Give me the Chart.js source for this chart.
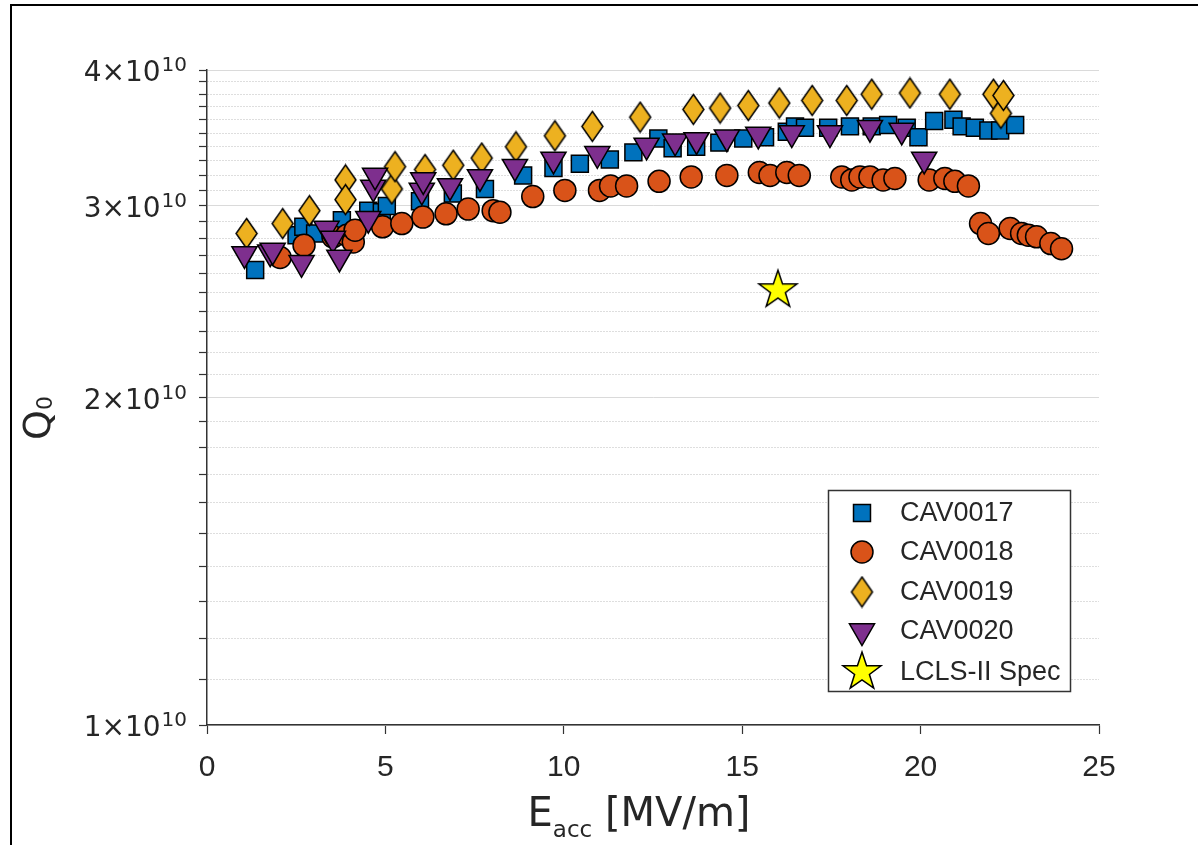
<!DOCTYPE html>
<html>
<head>
<meta charset="utf-8">
<script src="https://cdn.jsdelivr.net/npm/chart.js@4.4.1/dist/chart.umd.min.js"></script>
<style>
  html, body { margin: 0; padding: 0; background: #fff; }
  #wrap { position: relative; width: 1198px; height: 845px; overflow: hidden; }
  #moldura { position: absolute; left: 10px; top: 4px; right: -10px; bottom: -10px;
    border-left: 2px solid #000; border-top: 2px solid #000; pointer-events: none; }
</style>
</head>
<body>
<div id="wrap">
  <canvas id="graficoQ0" width="1198" height="845"></canvas>
  <div id="moldura"></div>
</div>
<script>
// dados (Eacc em MV/m, Q0)
const eacc17 = [1.35, 2.51, 2.70, 3.03, 3.78, 4.52, 4.90, 5.04, 5.97, 6.89, 7.79, 8.86, 9.71, 10.45, 11.29, 11.95, 12.65, 13.05, 13.71, 14.36, 15.03, 15.64, 16.25, 16.48, 16.76, 17.41, 18.02, 18.63, 19.09, 19.61, 19.94, 20.38, 20.92, 21.15, 21.52, 21.90, 22.23, 22.65];
const q17 = [2.62e10, 2.82e10, 2.87e10, 2.83e10, 2.91e10, 2.97e10, 2.96e10, 3.00e10, 3.03e10, 3.08e10, 3.11e10, 3.20e10, 3.25e10, 3.28e10, 3.31e10, 3.36e10, 3.46e10, 3.39e10, 3.40e10, 3.43e10, 3.46e10, 3.47e10, 3.51e10, 3.55e10, 3.54e10, 3.54e10, 3.55e10, 3.55e10, 3.56e10, 3.54e10, 3.47e10, 3.59e10, 3.60e10, 3.55e10, 3.54e10, 3.52e10, 3.52e10, 3.56e10];

const eacc18 = [2.05, 2.72, 3.53, 3.92, 4.10, 4.15, 4.92, 5.46, 6.05, 6.70, 7.32, 8.02, 8.21, 9.13, 10.03, 11.00, 11.31, 11.76, 12.67, 13.57, 14.57, 15.48, 15.78, 16.25, 16.60, 17.79, 18.07, 18.30, 18.58, 18.95, 19.28, 20.24, 20.68, 20.96, 21.34, 21.68, 21.90, 22.51, 22.83, 23.02, 23.25, 23.65, 23.95];
const q18 = [2.69e10, 2.76e10, 2.81e10, 2.82e10, 2.78e10, 2.85e10, 2.87e10, 2.89e10, 2.93e10, 2.95e10, 2.98e10, 2.97e10, 2.96e10, 3.06e10, 3.10e10, 3.10e10, 3.13e10, 3.13e10, 3.16e10, 3.19e10, 3.20e10, 3.22e10, 3.20e10, 3.22e10, 3.20e10, 3.19e10, 3.17e10, 3.19e10, 3.19e10, 3.17e10, 3.18e10, 3.17e10, 3.18e10, 3.16e10, 3.13e10, 2.89e10, 2.83e10, 2.86e10, 2.83e10, 2.82e10, 2.81e10, 2.77e10, 2.74e10];

const eacc19 = [1.11, 2.12, 2.87, 3.88, 3.88, 5.18, 5.27, 6.11, 6.90, 7.70, 8.66, 9.75, 10.80, 12.14, 13.63, 14.38, 15.17, 16.04, 16.96, 17.93, 18.63, 19.70, 20.82, 22.04, 22.25, 22.32];
const q19 = [2.83e10, 2.89e10, 2.97e10, 3.17e10, 3.04e10, 3.11e10, 3.26e10, 3.24e10, 3.27e10, 3.32e10, 3.40e10, 3.48e10, 3.55e10, 3.62e10, 3.68e10, 3.69e10, 3.71e10, 3.73e10, 3.75e10, 3.75e10, 3.80e10, 3.81e10, 3.80e10, 3.80e10, 3.65e10, 3.79e10];

const eacc20 = [1.05, 1.77, 1.84, 2.65, 3.35, 3.53, 3.71, 4.52, 4.66, 4.71, 6.02, 6.06, 6.81, 7.65, 8.63, 9.71, 10.94, 12.32, 13.12, 13.72, 14.57, 15.45, 16.39, 17.46, 18.58, 19.47, 20.10];
const q20 = [2.71e10, 2.72e10, 2.73e10, 2.66e10, 2.86e10, 2.80e10, 2.69e10, 2.92e10, 3.12e10, 3.20e10, 3.10e10, 3.17e10, 3.13e10, 3.19e10, 3.26e10, 3.31e10, 3.35e10, 3.41e10, 3.44e10, 3.45e10, 3.47e10, 3.49e10, 3.50e10, 3.50e10, 3.54e10, 3.52e10, 3.31e10];

const eaccSpec = [16];
const qSpec = [2.51e10];

const rotulos = ["CAV0017", "CAV0018", "CAV0019", "CAV0020", "LCLS-II Spec"];

// ticks dos eixos
const xTicks = [0, 5, 10, 15, 20, 25];
const yMaiores = [1e10, 2e10, 3e10, 4e10];
const yMantissa = ["1", "2", "3", "4"];
const yExpoente = "10";

const corTexto = "#262626";
const corEixo = "#333333";

// junta x e y em pontos
function pontos(xs, ys) {
  return xs.map((x, i) => ({ x: x, y: ys[i] }));
}

// losango alongado (diamante do matlab)
function criaLosango() {
  const c = document.createElement("canvas");
  c.width = 25; c.height = 33;
  const g = c.getContext("2d");
  g.beginPath();
  g.moveTo(12.5, 1.5);
  g.lineTo(23, 16.5);
  g.lineTo(12.5, 31.5);
  g.lineTo(2, 16.5);
  g.closePath();
  g.fillStyle = "#EDB120";
  g.fill();
  g.lineWidth = 1.5;
  g.strokeStyle = "#000";
  g.stroke();
  return c;
}

// estrela de 5 pontas
function criaEstrela() {
  const c = document.createElement("canvas");
  c.width = 46; c.height = 46;
  const g = c.getContext("2d");
  const R = 20, r = 7.8;
  g.beginPath();
  for (let i = 0; i < 10; i++) {
    const raio = i % 2 === 0 ? R : r;
    const ang = -Math.PI / 2 + i * Math.PI / 5;
    const px = 23 + raio * Math.cos(ang);
    const py = 23 + raio * Math.sin(ang);
    if (i === 0) g.moveTo(px, py); else g.lineTo(px, py);
  }
  g.closePath();
  g.fillStyle = "#FFFF00";
  g.fill();
  g.lineWidth = 1.5;
  g.strokeStyle = "#000";
  g.stroke();
  return c;
}

const losango = criaLosango();
const estrela = criaEstrela();

function ehMaior(v) {
  return Math.round(v / 1e9) % 10 === 0;
}

// desenha um marcador da legenda
function desenhaMarcador(ctx, ds, x, y) {
  const st = ds.pointStyle;
  if (st instanceof HTMLCanvasElement) {
    ctx.drawImage(st, x - st.width / 2, y - st.height / 2);
    return;
  }
  ctx.save();
  ctx.fillStyle = ds.pointBackgroundColor;
  ctx.strokeStyle = ds.pointBorderColor;
  ctx.lineWidth = ds.pointBorderWidth;
  ctx.beginPath();
  const r = ds.pointRadius;
  if (st === "rect") {
    const s = r * Math.SQRT1_2;
    ctx.rect(x - s, y - s, 2 * s, 2 * s);
  } else if (st === "circle") {
    ctx.arc(x, y, r, 0, 2 * Math.PI);
  } else if (st === "triangle") {
    ctx.moveTo(x, y + r);
    ctx.lineTo(x - r * 0.866, y - r / 2);
    ctx.lineTo(x + r * 0.866, y - r / 2);
    ctx.closePath();
  }
  ctx.fill();
  ctx.stroke();
  ctx.restore();
}

// textos extras: rotulos do eixo y, titulos e legenda
const textosExtras = {
  id: "textosExtras",
  afterDraw(chart) {
    const ctx = chart.ctx;
    const yAxis = chart.scales.y;
    const xAxis = chart.scales.x;
    ctx.save();
    ctx.fillStyle = corTexto;

    // rotulos do eixo y com expoente
    ctx.textAlign = "right";
    ctx.textBaseline = "alphabetic";
    yMaiores.forEach((v, i) => {
      const py = yAxis.getPixelForValue(v);
      ctx.font = '20px "DejaVu Sans"';
      const ws = ctx.measureText(yExpoente).width;
      ctx.fillText(yExpoente, 187, py + 1);
      ctx.font = '28px "DejaVu Sans"';
      ctx.fillText(yMantissa[i] + "\u00d710", 187 - ws - 1, py + 11);
    });

    // titulo do eixo x: E_acc [MV/m]
    const cx = (xAxis.left + xAxis.right) / 2 - 14;
    ctx.textAlign = "left";
    ctx.font = '40px "DejaVu Sans"';
    const wE = ctx.measureText("E").width;
    const wR = ctx.measureText(" [MV/m]").width;
    ctx.font = '23px "DejaVu Sans"';
    const wS = ctx.measureText("acc").width;
    let x0 = cx - (wE + wS + wR) / 2;
    ctx.font = '40px "DejaVu Sans"';
    ctx.fillText("E", x0, 826);
    ctx.font = '23px "DejaVu Sans"';
    ctx.fillText("acc", x0 + wE, 837);
    ctx.font = '40px "DejaVu Sans"';
    ctx.fillText(" [MV/m]", x0 + wE + wS, 826);

    // titulo do eixo y: Q_0 (girado)
    ctx.save();
    ctx.translate(36, 418);
    ctx.rotate(-Math.PI / 2);
    ctx.font = '38px "DejaVu Sans"';
    const wQ = ctx.measureText("Q").width;
    ctx.font = '22px "DejaVu Sans"';
    const w0 = ctx.measureText("0").width;
    const q0 = -(wQ + w0) / 2;
    ctx.font = '38px "DejaVu Sans"';
    ctx.fillText("Q", q0, 14);
    ctx.font = '22px "DejaVu Sans"';
    ctx.fillText("0", q0 + wQ, 16);
    ctx.restore();

    // legenda
    ctx.fillStyle = "#fff";
    ctx.fillRect(828, 490, 243, 202);
    ctx.lineWidth = 1.5;
    ctx.strokeStyle = corEixo;
    ctx.strokeRect(828.5, 490.5, 242, 201);
    const linhas = [513, 552, 592, 631, 672];
    ctx.textAlign = "left";
    ctx.textBaseline = "middle";
    ctx.font = '27px "Liberation Sans"';
    chart.data.datasets.forEach((ds, i) => {
      desenhaMarcador(ctx, ds, 862, linhas[i]);
      ctx.fillStyle = corTexto;
      ctx.fillText(ds.label, 900, linhas[i] + 1);
    });
    ctx.restore();
  }
};

const graficoQ0 = new Chart(document.getElementById("graficoQ0"), {
  type: "scatter",
  data: {
    datasets: [
      {
        label: rotulos[0],
        data: pontos(eacc17, q17),
        pointStyle: "rect",
        pointRadius: 12,
        pointBackgroundColor: "#0072BD",
        pointBorderColor: "#000",
        pointBorderWidth: 1.5,
        order: 5,
      },
      {
        label: rotulos[1],
        data: pontos(eacc18, q18),
        pointStyle: "circle",
        pointRadius: 11,
        pointBackgroundColor: "#D95319",
        pointBorderColor: "#000",
        pointBorderWidth: 1.5,
        order: 4,
      },
      {
        label: rotulos[2],
        data: pontos(eacc19, q19),
        pointStyle: losango,
        pointRadius: 14,
        pointBackgroundColor: "#EDB120",
        pointBorderColor: "#000",
        pointBorderWidth: 1.5,
        order: 3,
      },
      {
        label: rotulos[3],
        data: pontos(eacc20, q20),
        pointStyle: "triangle",
        pointRotation: 180,
        pointRadius: 14.5,
        pointBackgroundColor: "#7E2F8E",
        pointBorderColor: "#000",
        pointBorderWidth: 1.5,
        order: 2,
      },
      {
        label: rotulos[4],
        data: pontos(eaccSpec, qSpec),
        pointStyle: estrela,
        pointRadius: 20,
        pointBackgroundColor: "#FFFF00",
        pointBorderColor: "#000",
        pointBorderWidth: 1.5,
        order: 1,
      },
    ],
  },
  options: {
    responsive: false,
    devicePixelRatio: 1,
    animation: false,
    events: [],
    layout: { padding: { left: 199, top: 70, right: 99, bottom: 43 } },
    plugins: {
      legend: { display: false },
      tooltip: { enabled: false },
    },
    scales: {
      x: {
        type: "linear",
        min: 0,
        max: 25,
        afterBuildTicks: (axis) => { axis.ticks = xTicks.map(v => ({ value: v })); },
        ticks: {
          color: corTexto,
          font: { family: "Liberation Sans", size: 30 },
          padding: 16,
          maxRotation: 0,
        },
        grid: {
          drawOnChartArea: false,
          tickLength: 9,
          tickColor: corEixo,
          tickWidth: 1.2,
        },
        border: { color: corEixo, width: 1.5 },
      },
      y: {
        type: "logarithmic",
        min: 1e10,
        max: 4e10,
        afterBuildTicks: (axis) => {
          const t = [];
          for (let i = 10; i <= 40; i++) t.push({ value: i * 1e9 });
          axis.ticks = t;
        },
        ticks: { display: false },
        grid: {
          color: (c) => (c.tick && ehMaior(c.tick.value)) ? "#dadada" : "#bdbdbd",
          lineWidth: 1,
          tickLength: 8,
          tickColor: corEixo,
          tickWidth: 1.2,
        },
        border: {
          color: corEixo,
          width: 1.5,
          dash: (c) => (c.tick && !ehMaior(c.tick.value)) ? [1, 2] : [],
        },
      },
    },
  },
  plugins: [textosExtras],
});
</script>
</body>
</html>
